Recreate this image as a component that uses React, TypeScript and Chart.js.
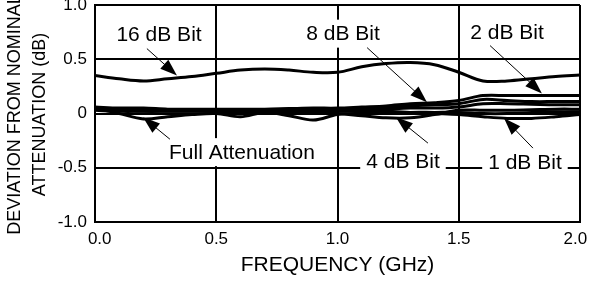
import React, { useEffect, useRef } from 'react';
import { Chart, registerables } from 'chart.js';

Chart.register(...registerables);

const FONT = '"Liberation Sans", Arial, Helvetica, sans-serif';

// Frequency (GHz)
const frequencies = [0, 0.1, 0.2, 0.3, 0.4, 0.5, 0.6, 0.7, 0.8, 0.9, 1.0, 1.1, 1.2, 1.3, 1.4, 1.5, 1.6, 1.7, 1.8, 1.9, 2.0];

// Deviation from nominal attenuation (dB)
const bit16 = [0.35, 0.32, 0.30, 0.32, 0.34, 0.37, 0.40, 0.41, 0.40, 0.38, 0.38, 0.43, 0.46, 0.47, 0.45, 0.38, 0.30, 0.30, 0.32, 0.34, 0.355];
const bit2 = [0.06, 0.05, 0.05, 0.04, 0.04, 0.04, 0.04, 0.04, 0.045, 0.05, 0.05, 0.06, 0.07, 0.09, 0.10, 0.12, 0.165, 0.165, 0.165, 0.165, 0.165];
const bit8 = [0.05, 0.04, 0.04, 0.03, 0.03, 0.03, 0.03, 0.035, 0.04, 0.04, 0.04, 0.05, 0.06, 0.07, 0.08, 0.09, 0.13, 0.12, 0.11, 0.11, 0.11];
const bitOther = [0.04, 0.04, 0.03, 0.03, 0.03, 0.02, 0.03, 0.03, 0.03, 0.03, 0.03, 0.03, 0.04, 0.05, 0.05, 0.06, 0.09, 0.09, 0.085, 0.08, 0.08];
const bit4 = [0.04, 0.03, 0.02, 0.02, 0.02, 0.02, 0.02, 0.02, 0.01, 0.01, 0.0, -0.02, -0.04, -0.04, -0.01, 0.03, 0.03, 0.03, 0.035, 0.04, 0.04];
const fullAttenuation = [0.05, 0.0, -0.05, -0.03, -0.01, 0.0, -0.03, 0.01, -0.02, -0.06, -0.01, 0.0, 0.0, 0.01, 0.01, 0.01, 0.0, 0.0, 0.01, 0.015, 0.015];
const bit1 = [0.03, 0.02, 0.02, 0.02, 0.02, 0.02, 0.01, 0.02, 0.02, 0.02, 0.02, 0.02, 0.02, 0.01, 0.0, -0.01, -0.03, -0.045, -0.045, -0.03, -0.01];

const xTicks = [0, 0.5, 1.0, 1.5, 2.0];
const xTickLabels = ['  0.0', '0.5', '1.0', '1.5', '2.0  '];
const yTicks = [-1.0, -0.5, 0, 0.5, 1.0];

const xTitle = 'FREQUENCY (GHz)';
const yTitleLines = ['DEVIATION FROM NOMINAL', 'ATTENUATION (dB)'];

// Callout labels (text centre and arrow, in data units)
const callouts = [
  { text: '16 dB Bit', tx: 0.264, ty: 0.734, ax: 0.214, ay: 0.598, px: 0.338, py: 0.35 },
  { text: '8 dB Bit', tx: 1.023, ty: 0.736, ax: 1.122, ay: 0.607, px: 1.369, py: 0.103 },
  { text: '2 dB Bit', tx: 1.699, ty: 0.745, ax: 1.629, ay: 0.626, px: 1.843, py: 0.185 },
  { text: 'Full Attenuation', tx: 0.606, ty: -0.356, ax: 0.309, ay: -0.237, px: 0.198, py: -0.035 },
  { text: '4 dB Bit', tx: 1.27, ty: -0.439, ax: 1.373, ay: -0.273, px: 1.241, py: -0.035 },
  { text: '1 dB Bit', tx: 1.773, ty: -0.448, ax: 1.806, ay: -0.319, px: 1.687, py: -0.044 },
];

const toPoints = (vals: number[]) => frequencies.map((f, i) => ({ x: f, y: vals[i] }));

const calloutPlugin = {
  id: 'callouts',
  afterDraw(chart: any) {
    const { ctx, scales } = chart;
    const xs = scales.x;
    const ys = scales.y;
    ctx.save();
    ctx.font = `21px ${FONT}`;
    ctx.textAlign = 'center';
    ctx.textBaseline = 'middle';
    for (const c of callouts) {
      const tx = xs.getPixelForValue(c.tx);
      const ty = ys.getPixelForValue(c.ty);
      const w = ctx.measureText(c.text).width;
      ctx.fillStyle = '#fff';
      ctx.fillRect(tx - w / 2 - 6, ty - 14, w + 12, 28);
      ctx.fillStyle = '#000';
      ctx.fillText(c.text, tx, ty + 1);
      // arrow
      const x0 = xs.getPixelForValue(c.ax);
      const y0 = ys.getPixelForValue(c.ay);
      const x1 = xs.getPixelForValue(c.px);
      const y1 = ys.getPixelForValue(c.py);
      const ang = Math.atan2(y1 - y0, x1 - x0);
      const L = 17;
      const H = 6;
      ctx.strokeStyle = '#000';
      ctx.lineWidth = 1;
      ctx.beginPath();
      ctx.moveTo(x0, y0);
      ctx.lineTo(x1 - Math.cos(ang) * L * 0.8, y1 - Math.sin(ang) * L * 0.8);
      ctx.stroke();
      const bx = x1 - Math.cos(ang) * L;
      const by = y1 - Math.sin(ang) * L;
      ctx.beginPath();
      ctx.moveTo(x1, y1);
      ctx.lineTo(bx + Math.sin(ang) * H, by - Math.cos(ang) * H);
      ctx.lineTo(bx - Math.sin(ang) * H, by + Math.cos(ang) * H);
      ctx.closePath();
      ctx.fill();
    }
    ctx.restore();
  },
};

const yTitlePlugin = {
  id: 'yTitle',
  afterDraw(chart: any) {
    const { ctx, chartArea } = chart;
    const cy = (chartArea.top + chartArea.bottom) / 2 + 1;
    ctx.save();
    ctx.translate(15.5, cy);
    ctx.rotate(-Math.PI / 2);
    ctx.font = `18px ${FONT}`;
    ctx.fillStyle = '#000';
    ctx.textAlign = 'center';
    ctx.textBaseline = 'middle';
    yTitleLines.forEach((line, i) => ctx.fillText(line, 0, i * 24.5));
    ctx.restore();
  },
};

export default function App() {
  const ref = useRef<HTMLCanvasElement>(null);

  useEffect(() => {
    const line = (label: string, vals: number[], width: number) => ({
      label,
      data: toPoints(vals),
      borderColor: '#000',
      backgroundColor: '#000',
      borderWidth: width,
      pointRadius: 0,
      tension: 0.35,
      fill: false,
    });
    const chart = new Chart(ref.current as HTMLCanvasElement, {
      type: 'line',
      data: {
        datasets: [
          line('16 dB Bit', bit16, 3),
          line('2 dB Bit', bit2, 3),
          line('8 dB Bit', bit8, 3),
          line('Other', bitOther, 3),
          line('4 dB Bit', bit4, 3),
          line('Full Attenuation', fullAttenuation, 3),
          line('1 dB Bit', bit1, 3),
        ],
      },
      options: {
        responsive: false,
        animation: false,
        devicePixelRatio: 1,
        layout: { padding: { top: 5, right: 9, left: 0, bottom: 0 } },
        plugins: { legend: { display: false }, tooltip: { enabled: false } },
        scales: {
          x: {
            type: 'linear',
            min: 0,
            max: 2,
            afterBuildTicks: (s: any) => { s.ticks = xTicks.map((v) => ({ value: v })); },
            afterFit: (s: any) => { s.height = 59; s.paddingLeft = 0; s.paddingRight = 0; },
            ticks: {
              color: '#000',
              font: { family: FONT, size: 17 },
              padding: 7,
              maxRotation: 0,
              autoSkip: false,
              callback: (v: any, i: number) => xTickLabels[i] ?? Number(v).toFixed(1),
            },
            grid: { color: '#000', lineWidth: 2, drawTicks: false },
            border: { display: true, color: '#000', width: 2 },
            title: {
              display: true,
              text: xTitle,
              color: '#000',
              font: { family: FONT, size: 21 },
              padding: { top: 0, bottom: 3 },
            },
          },
          y: {
            type: 'linear',
            min: -1,
            max: 1,
            afterBuildTicks: (s: any) => { s.ticks = yTicks.map((v) => ({ value: v })); },
            afterFit: (s: any) => { s.width = 95; s.paddingTop = 0; s.paddingBottom = 0; },
            ticks: {
              color: '#000',
              font: { family: FONT, size: 17 },
              padding: 8,
              autoSkip: false,
              callback: (v: any) => (Number(v) === 0 ? '0' : Number(v).toFixed(1)),
            },
            grid: { color: '#000', lineWidth: 2, drawTicks: false },
            border: { display: true, color: '#000', width: 2 },
            title: { display: false },
          },
        },
      },
      plugins: [calloutPlugin, yTitlePlugin],
    } as any);
    return () => chart.destroy();
  }, []);

  return (
    <div style={{ position: 'absolute', left: 0, top: 0, width: 589, height: 281, background: '#fff' }}>
      <canvas ref={ref} width={589} height={281} style={{ display: 'block' }} />
    </div>
  );
}
